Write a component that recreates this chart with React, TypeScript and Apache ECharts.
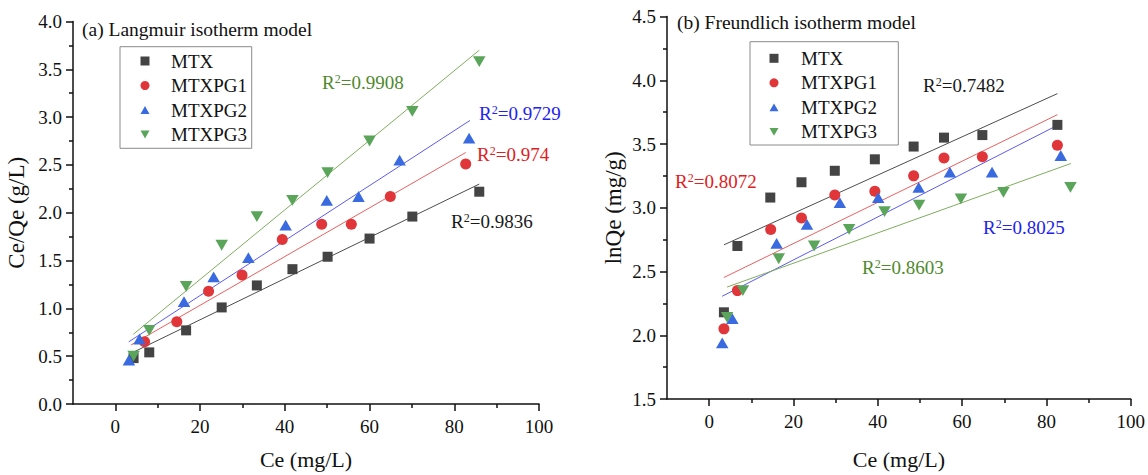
import React, { useEffect, useRef } from "react";
import * as echarts from "echarts";

const seriesNames = ["MTX", "MTXPG1", "MTXPG2", "MTXPG3"];

// (a) Langmuir: Ce (mg/L) vs Ce/Qe (g/L)
const langCeMTX = [4.3, 8, 16.7, 25.1, 33.4, 41.8, 50.1, 60, 70.1, 85.9];
const langValMTX = [0.48, 0.54, 0.77, 1.01, 1.24, 1.41, 1.54, 1.73, 1.96, 2.22];
const langCePG1 = [6.9, 14.5, 22, 29.9, 39.4, 48.7, 55.7, 64.9, 82.7];
const langValPG1 = [0.65, 0.86, 1.18, 1.35, 1.72, 1.88, 1.88, 2.17, 2.51];
const langCePG2 = [3.2, 5.7, 16.2, 23.2, 31.4, 40.2, 49.9, 57.4, 67.1, 83.5];
const langValPG2 = [0.46, 0.68, 1.07, 1.33, 1.53, 1.87, 2.13, 2.17, 2.55, 2.78];
const langCePG3 = [4.3, 8, 16.7, 25.1, 33.4, 41.8, 50.1, 60, 70.1, 85.9];
const langValPG3 = [0.5, 0.77, 1.23, 1.66, 1.96, 2.13, 2.42, 2.75, 3.06, 3.58];
// fitted line end points (x0, x1) and (y0, y1)
const langFitX = [[3.7, 85.9], [3.7, 82.7], [3.15, 83.7], [4.25, 85.9]];
const langFitY = [[0.53, 2.3], [0.617, 2.63], [0.65, 2.965], [0.73, 3.7]];
const langR2 = ["0.9836", "0.974", "0.9729", "0.9908"];

// (b) Freundlich: Ce (mg/L) vs lnQe (mg/g)
const freCeMTX = [3.5, 6.7, 14.5, 21.9, 29.8, 39.3, 48.5, 55.7, 64.8, 82.6];
const freValMTX = [2.18, 2.7, 3.08, 3.2, 3.29, 3.38, 3.48, 3.55, 3.57, 3.65];
const freCePG1 = [3.5, 6.7, 14.6, 21.9, 29.8, 39.3, 48.5, 55.7, 64.8, 82.6];
const freValPG1 = [2.05, 2.35, 2.83, 2.92, 3.1, 3.13, 3.25, 3.39, 3.4, 3.49];
const freCePG2 = [3.1, 5.5, 16, 23.2, 31.0, 40.1, 49.7, 57.1, 67.1, 83.4];
const freValPG2 = [1.94, 2.13, 2.72, 2.87, 3.04, 3.08, 3.16, 3.28, 3.28, 3.41];
const freCePG3 = [4.25, 8, 16.5, 24.9, 33.2, 41.6, 49.8, 59.7, 69.8, 85.7];
const freValPG3 = [2.14, 2.35, 2.6, 2.7, 2.83, 2.97, 3.02, 3.07, 3.12, 3.16];
const freFitX = [[3.5, 82.6], [3.5, 82.6], [3.1, 83.4], [4.25, 85.8]];
const freFitY = [[2.709, 3.895], [2.453, 3.73], [2.306, 3.66], [2.378, 3.347]];
const freR2 = ["0.7482", "0.8072", "0.8025", "0.8603"];

const xMajorTicks = [0, 20, 40, 60, 80, 100];
const xMinorTicks = [10, 30, 50, 70, 90];

const FONT = "'Liberation Serif', 'Times New Roman', serif";
const markerColors = ["#444444", "#e0363a", "#3a6ae0", "#5aa55a"];
const fitColors = ["#4d4d4d", "#ec5f5f", "#5b5bf0", "#7fae5f"];
const noteColors = ["#1a1a1a", "#e0201e", "#2222ee", "#4e8a2e"];
const symbols = [
  "rect",
  "circle",
  "path://M1,0L2,1.732L0,1.732Z",
  "path://M0,0L2,0L1,1.732Z",
];
const symbolSizes = [10, 11, 12.5, 12.5];

// annotation positions (left x, middle y) in pixels
const langNotePos = [[451, 221], [477, 154], [479, 113], [322, 82]];
const freNotePos = [[923, 85], [675, 181], [983, 227], [862, 267]];

const zip = (xs: number[], ys: number[]) => xs.map((x, i) => [x, ys[i]]);

const langCe = [langCeMTX, langCePG1, langCePG2, langCePG3];
const langVal = [langValMTX, langValPG1, langValPG2, langValPG3];
const freCe = [freCeMTX, freCePG1, freCePG2, freCePG3];
const freVal = [freValMTX, freValPG1, freValPG2, freValPG3];

function makeXAxes(gridIndex: number, nameGap: number) {
  const line = { color: "#111", width: 1.5 };
  return [
    {
      gridIndex,
      type: "value",
      min: -10,
      max: 100,
      position: "bottom",
      axisLine: { show: true, onZero: false, lineStyle: line },
      axisTick: { show: true, customValues: xMajorTicks, length: 7, lineStyle: line },
      axisLabel: { customValues: xMajorTicks, margin: 13, fontSize: 19, fontFamily: FONT, color: "#111" },
      splitLine: { show: false },
      name: "Ce (mg/L)",
      nameLocation: "middle",
      nameGap,
      nameTextStyle: { fontSize: 22, fontFamily: FONT, color: "#111" },
    },
    {
      gridIndex,
      type: "value",
      min: -10,
      max: 100,
      position: "bottom",
      offset: 0,
      axisLine: { show: false },
      axisTick: { show: true, customValues: xMinorTicks, length: 4, lineStyle: line },
      axisLabel: { show: false },
      splitLine: { show: false },
    },
  ];
}

function makeYAxis(gridIndex: number, min: number, max: number, name: string, nameGap: number) {
  const line = { color: "#111", width: 1.5 };
  return {
    gridIndex,
    type: "value",
    min,
    max,
    interval: 0.5,
    axisLine: { show: true, onZero: false, lineStyle: line },
    axisTick: { show: true, length: 7, lineStyle: line },
    minorTick: { show: true, splitNumber: 2, length: 4, lineStyle: line },
    axisLabel: {
      margin: 11,
      fontSize: 19,
      fontFamily: FONT,
      color: "#111",
      formatter: (v: number) => v.toFixed(1),
    },
    splitLine: { show: false },
    minorSplitLine: { show: false },
    name,
    nameLocation: "middle",
    nameGap,
    nameTextStyle: { fontSize: 23, fontFamily: FONT, color: "#111" },
  };
}

function makeSeries(
  ce: number[][],
  val: number[][],
  fitX: number[][],
  fitY: number[][],
  xAxisIndex: number,
  yAxisIndex: number,
  tag: string
) {
  const out: any[] = [];
  fitX.forEach((fx, i) => {
    out.push({
      type: "line",
      name: `${seriesNames[i]} fit ${tag}`,
      xAxisIndex,
      yAxisIndex,
      data: zip(fx, fitY[i]),
      showSymbol: false,
      symbol: "none",
      silent: true,
      z: 1,
      lineStyle: { color: fitColors[i], width: 1 },
    });
  });
  ce.forEach((xs, i) => {
    out.push({
      type: "scatter",
      name: seriesNames[i],
      xAxisIndex,
      yAxisIndex,
      data: zip(xs, val[i]),
      symbol: symbols[i],
      symbolSize: symbolSizes[i],
      symbolKeepAspect: true,
      z: 3,
      itemStyle: { color: markerColors[i], opacity: 1 },
    });
  });
  return out;
}

function makeNotes(values: string[], pos: number[][]) {
  return values.map((v, i) => ({
    type: "text",
    x: pos[i][0],
    y: pos[i][1],
    z: 10,
    style: {
      text: `R{s|2}=${v}`,
      fill: noteColors[i],
      fontSize: 19,
      fontFamily: FONT,
      verticalAlign: "middle",
      align: "left",
      rich: {
        s: { fontSize: 12, fontFamily: FONT, fill: noteColors[i], verticalAlign: "top" },
      },
    },
  }));
}

function makeLegend(left: number, top: number, padding: number[], textPad: number) {
  return {
    data: seriesNames,
    orient: "vertical",
    left,
    top,
    padding,
    itemGap: 5.5,
    itemWidth: 9,
    itemHeight: 9,
    borderColor: "#8a8a8a",
    borderWidth: 1,
    selectedMode: false,
    textStyle: {
      fontSize: 19,
      fontFamily: FONT,
      color: "#111",
      padding: [0, 0, 0, textPad],
    },
  };
}

export default function App() {
  const ref = useRef<HTMLDivElement>(null);
  useEffect(() => {
    document.body.style.margin = "0";
    if (!ref.current) return;
    const chart = echarts.init(ref.current, undefined, { renderer: "svg" });
    const option: any = {
      animation: false,
      backgroundColor: "#ffffff",
      title: [
        {
          text: "(a) Langmuir isotherm model",
          left: 82,
          top: 19,
          padding: 0,
          textStyle: { fontSize: 19.5, fontWeight: "normal", fontFamily: FONT, color: "#111" },
        },
        {
          text: "(b) Freundlich isotherm model",
          left: 677,
          top: 12.5,
          padding: 0,
          textStyle: { fontSize: 19.5, fontWeight: "normal", fontFamily: FONT, color: "#111" },
        },
      ],
      grid: [
        { left: 73, top: 21.5, width: 466, height: 386.5 },
        { left: 667, top: 16.5, width: 465.5, height: 386.8 },
      ],
      xAxis: [...makeXAxes(0, 44), ...makeXAxes(1, 49)],
      yAxis: [
        makeYAxis(0, 0, 4, "Ce/Qe (g/L)", 45),
        makeYAxis(1, 1.5, 4.5, "lnQe (mg/g)", 42),
      ],
      legend: [
        makeLegend(120, 46.7, [4.8, 4.7, 4.3, 20.5], 16.5),
        makeLegend(750, 41.7, [7.1, 21.3, 3.7, 19.5], 17.5),
      ],
      series: [
        ...makeSeries(langCe, langVal, langFitX, langFitY, 0, 0, "a"),
        ...makeSeries(freCe, freVal, freFitX, freFitY, 2, 1, "b"),
      ],
      graphic: [...makeNotes(langR2, langNotePos), ...makeNotes(freR2, freNotePos)],
    };
    chart.setOption(option);
    return () => chart.dispose();
  }, []);
  return <div ref={ref} style={{ width: 1148, height: 475 }} />;
}
